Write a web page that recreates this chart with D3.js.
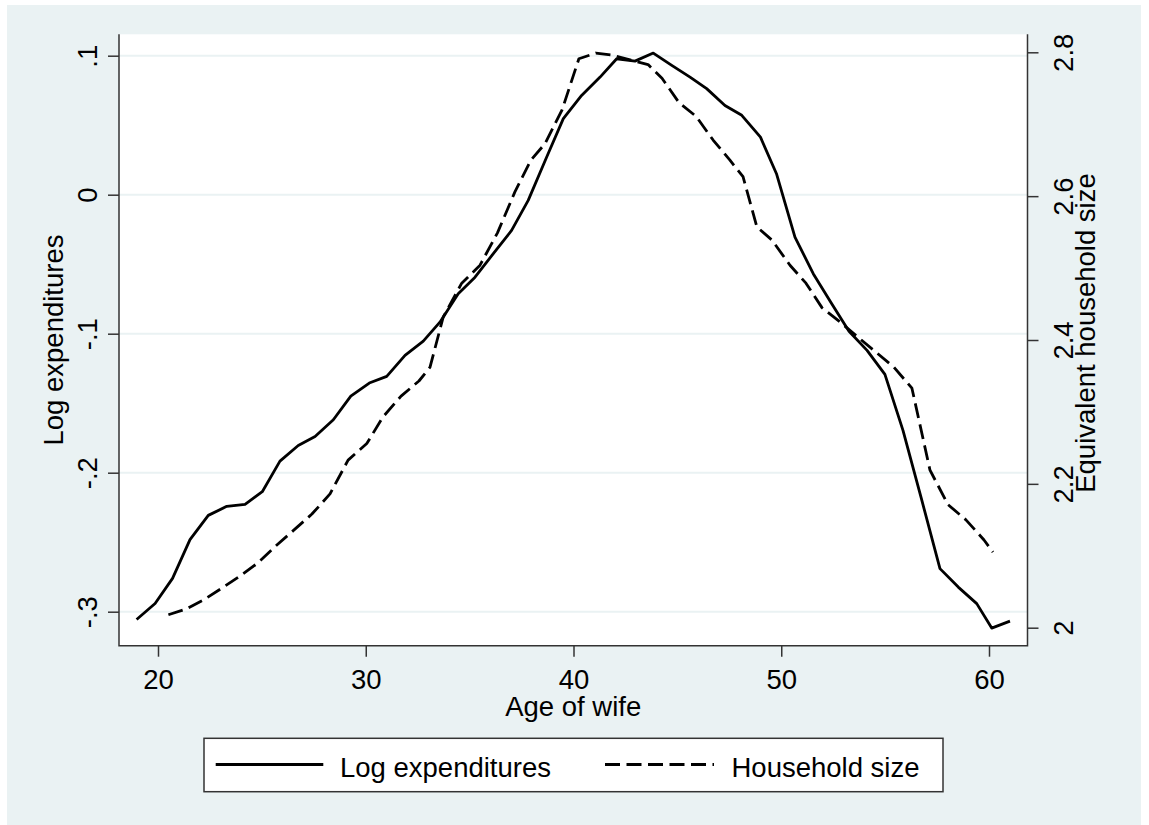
<!DOCTYPE html>
<html>
<head>
<meta charset="utf-8">
<script src="https://cdn.jsdelivr.net/npm/d3@7"></script>
<style>
  body { margin: 0; background: #ffffff; }
  text { font-family: "Liberation Sans", Arial, sans-serif; fill: #000; }
</style>
</head>
<body>
<svg id="chart" width="1149" height="825"></svg>
<script>
// ages of wife (x) and values
const ageExp = [18.97, 19.86, 20.70, 21.54, 22.42, 23.31, 24.19, 25.02, 25.87, 26.75,
  27.56, 28.44, 29.28, 30.17, 31.01, 31.89, 32.77, 33.57, 34.45, 35.26,
  36.14, 37.02, 37.82, 38.71, 39.51, 40.39, 41.28, 42.08, 42.96, 43.84,
  44.73, 45.61, 46.41, 47.29, 48.10, 49.00, 49.77, 50.66, 51.54, 52.40,
  53.26, 54.13, 54.99, 55.86, 56.73, 57.64, 58.52, 59.41, 60.13, 61.01];
const logExp = [-0.3056, -0.2941, -0.2760, -0.2482, -0.2307, -0.2242, -0.2228, -0.2137, -0.1917, -0.1804,
  -0.1739, -0.1619, -0.1449, -0.1355, -0.1307, -0.1156, -0.1053, -0.0917, -0.0712, -0.0593,
  -0.0424, -0.0257, -0.0041, 0.0271, 0.0547, 0.0714, 0.0846, 0.0978, 0.0961, 0.1019,
  0.0930, 0.0846, 0.0763, 0.0642, 0.0571, 0.0414, 0.0151, -0.0305, -0.0568, -0.0777,
  -0.0983, -0.1120, -0.1293, -0.1696, -0.2178, -0.2690, -0.2823, -0.2942, -0.3118, -0.3068];

const ageSize = [20.50, 21.35, 22.21, 23.08, 23.95, 24.81, 25.68, 26.55, 27.41, 28.28,
  29.15, 30.05, 30.83, 31.70, 32.56, 33.09, 33.73, 34.62, 35.50, 36.34,
  37.18, 37.95, 38.63, 39.45, 40.26, 41.08, 41.90, 42.77, 43.59, 44.26,
  45.08, 45.90, 46.72, 47.53, 48.16, 48.83, 49.55, 50.42, 51.19, 51.96,
  52.83, 53.69, 54.56, 55.43, 56.29, 57.16, 58.03, 58.89, 59.76, 60.19];
const hhSize = [2.018, 2.026, 2.039, 2.055, 2.072, 2.090, 2.114, 2.136, 2.158, 2.186,
  2.233, 2.256, 2.293, 2.322, 2.343, 2.362, 2.432, 2.479, 2.504, 2.549,
  2.606, 2.650, 2.673, 2.720, 2.791, 2.799, 2.796, 2.789, 2.783, 2.764,
  2.730, 2.711, 2.678, 2.650, 2.627, 2.557, 2.539, 2.504, 2.479, 2.445,
  2.425, 2.404, 2.383, 2.362, 2.333, 2.219, 2.171, 2.150, 2.122, 2.105];

const xTicks = [20, 30, 40, 50, 60];
const leftTicks = [-0.3, -0.2, -0.1, 0, 0.1];
const rightTicks = [2, 2.2, 2.4, 2.6, 2.8];
const seriesNames = ["Log expenditures", "Household size"];

const bg = "#eaf2f3";
const fontSize = 27.5;
const plot = { left: 119, right: 1027.5, top: 34.3, bottom: 645.7 };

const svg = d3.select("#chart");

const x = d3.scaleLinear().domain([20, 60]).range([158, 989]);
const yL = d3.scaleLinear().domain([-0.3, 0.1]).range([611.7, 55.7]);
const yR = d3.scaleLinear().domain([2, 2.8]).range([627.7, 52.3]);

// outer background and plot region
svg.append("rect")
  .attr("x", 7).attr("y", 5)
  .attr("width", 1134).attr("height", 820)
  .style("fill", bg);

svg.append("rect")
  .attr("x", plot.left).attr("y", plot.top)
  .attr("width", plot.right - plot.left)
  .attr("height", plot.bottom - plot.top)
  .style("fill", "#fff");

// grid lines follow left axis
svg.append("g")
  .selectAll("line")
  .data(leftTicks)
  .join("line")
  .attr("x1", plot.left).attr("x2", plot.right)
  .attr("y1", d => yL(d)).attr("y2", d => yL(d))
  .style("stroke", bg)
  .style("stroke-width", 2);

// Stata style labels: "-.3", "0", ".1" with a plain hyphen
const fmtLeft = d => {
  if (Math.abs(d) < 1e-9) return "0";
  const s = Math.abs(d).toFixed(1).replace(/^0\./, ".");
  return (d < 0 ? "-" : "") + s;
};
const fmtRight = d => (Math.abs(d - Math.round(d)) < 1e-9 ? String(Math.round(d)) : d.toFixed(1));

function styleAxis(g) {
  g.select(".domain").remove();
  g.selectAll(".tick line").style("stroke", "#333").style("stroke-width", 1.5);
  g.selectAll(".tick text")
    .style("font-size", fontSize + "px")
    .style("font-family", '"Liberation Sans", Arial, sans-serif')
    .attr("fill", "#000");
}

const leftAxis = svg.append("g")
  .attr("transform", `translate(${plot.left},0)`)
  .call(d3.axisLeft(yL).tickValues(leftTicks).tickFormat(fmtLeft).tickSize(11).tickSizeOuter(0))
  .call(styleAxis);
leftAxis.selectAll(".tick text")
  .attr("x", 0).attr("y", -22).attr("dy", 0)
  .attr("text-anchor", "middle")
  .attr("transform", "rotate(-90)");

const rightAxis = svg.append("g")
  .attr("transform", `translate(${plot.right},0)`)
  .call(d3.axisRight(yR).tickValues(rightTicks).tickFormat(fmtRight).tickSize(11).tickSizeOuter(0))
  .call(styleAxis);
rightAxis.selectAll(".tick text")
  .attr("x", 0).attr("y", 45.5).attr("dy", 0)
  .attr("text-anchor", "middle")
  .attr("transform", "rotate(-90)");

const bottomAxis = svg.append("g")
  .attr("transform", `translate(0,${plot.bottom})`)
  .call(d3.axisBottom(x).tickValues(xTicks).tickFormat(d3.format("d")).tickSize(11).tickSizeOuter(0))
  .call(styleAxis);
bottomAxis.selectAll(".tick text").attr("y", 43).attr("dy", 0);

// frame: left, right and bottom axis lines
svg.append("path")
  .attr("d", `M${plot.left},${plot.top}V${plot.bottom}H${plot.right}V${plot.top}`)
  .style("fill", "none")
  .style("stroke", "#333")
  .style("stroke-width", 1.5);

// axis titles
svg.append("text")
  .attr("transform", `translate(63,${(plot.top + plot.bottom) / 2}) rotate(-90)`)
  .attr("text-anchor", "middle")
  .style("font-size", fontSize + "px")
  .text("Log expenditures");

svg.append("text")
  .attr("transform", `translate(1095,333) rotate(-90)`)
  .attr("text-anchor", "middle")
  .style("font-size", fontSize + "px")
  .text("Equivalent household size");

svg.append("text")
  .attr("x", (plot.left + plot.right) / 2)
  .attr("y", 716)
  .attr("text-anchor", "middle")
  .style("font-size", fontSize + "px")
  .text("Age of wife");

// series
const lineExp = d3.line().x((d, i) => x(ageExp[i])).y(d => yL(d));
const lineSize = d3.line().x((d, i) => x(ageSize[i])).y(d => yR(d));

svg.append("path")
  .attr("d", lineExp(logExp))
  .style("fill", "none")
  .style("stroke", "#000")
  .style("stroke-width", 2.8)
  .style("stroke-linejoin", "round");

svg.append("path")
  .attr("d", lineSize(hhSize))
  .style("fill", "none")
  .style("stroke", "#000")
  .style("stroke-width", 2.8)
  .style("stroke-dasharray", "15,6.5")
  .style("stroke-linejoin", "round");

// legend
const legend = svg.append("g");
legend.append("rect")
  .attr("x", 204).attr("y", 738.3)
  .attr("width", 739).attr("height", 53.4)
  .style("fill", "#fff")
  .style("stroke", "#333")
  .style("stroke-width", 1.5);

const legendItems = [
  { name: seriesNames[0], x1: 215.7, x2: 323.3, tx: 340, dash: null },
  { name: seriesNames[1], x1: 605, x2: 714, tx: 731.5, dash: "15,6.5" }
];
legendItems.forEach(item => {
  legend.append("line")
    .attr("x1", item.x1).attr("x2", item.x2)
    .attr("y1", 764.5).attr("y2", 764.5)
    .style("stroke", "#000")
    .style("stroke-width", 2.8)
    .style("stroke-dasharray", item.dash);
  legend.append("text")
    .attr("x", item.tx).attr("y", 776.7)
    .style("font-size", fontSize + "px")
    .text(item.name);
});
</script>
</body>
</html>
